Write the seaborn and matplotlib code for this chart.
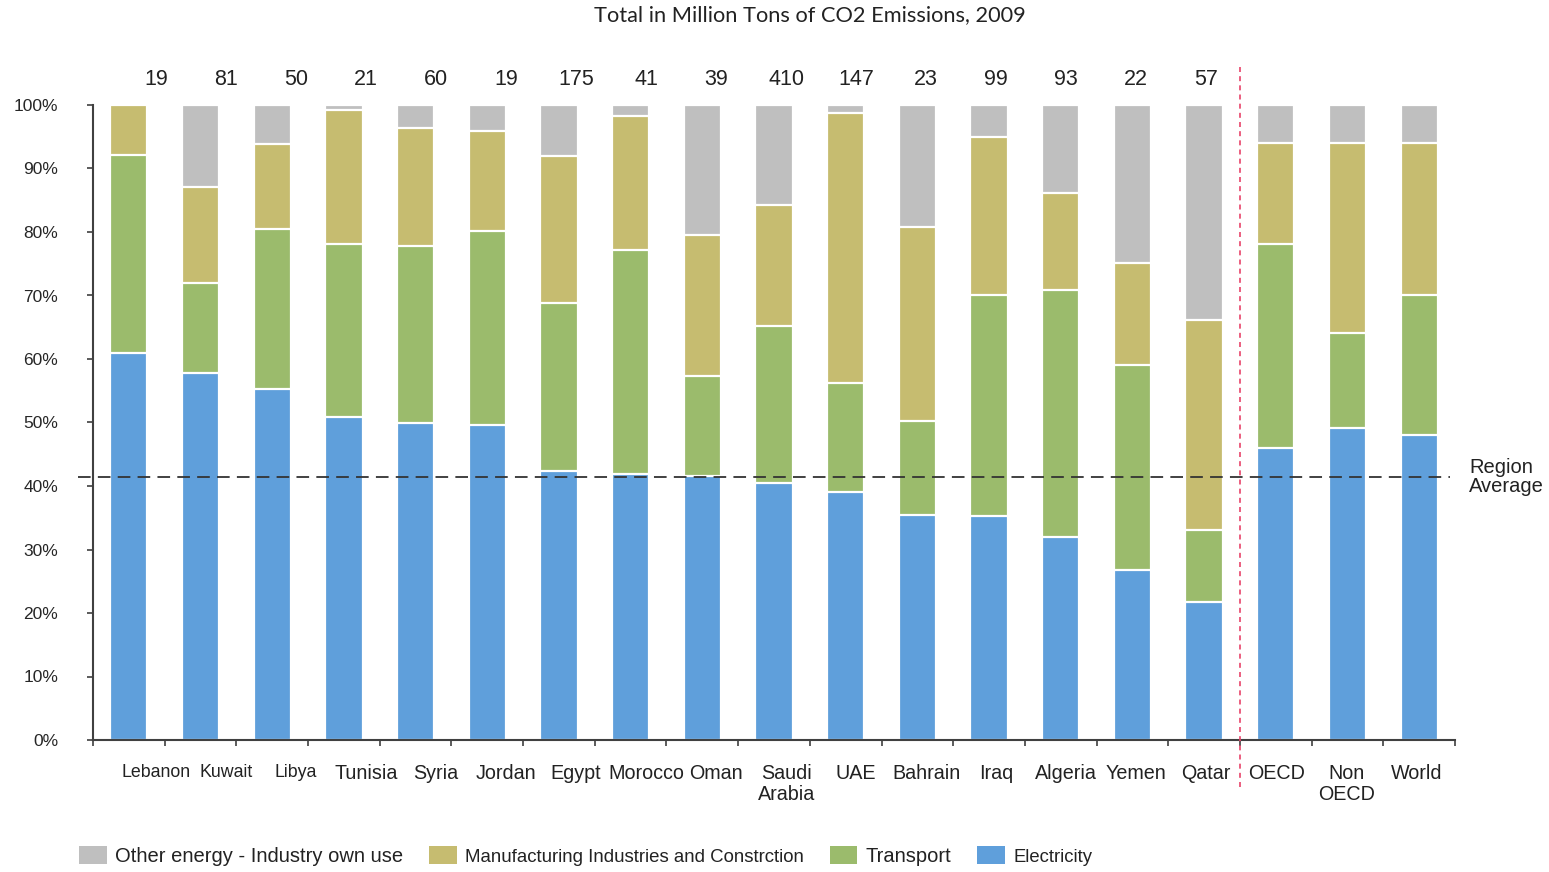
import numpy as np
import matplotlib
matplotlib.use("Agg")
import matplotlib.pyplot as plt
from matplotlib.patches import Patch
import seaborn as sns

# Countries / aggregates
categories = ["Lebanon", "Kuwait", "Libya", "Tunisia", "Syria", "Jordan", "Egypt",
              "Morocco", "Oman", "Saudi\nArabia", "UAE", "Bahrain", "Iraq", "Algeria",
              "Yemen", "Qatar", "OECD", "Non\nOECD", "World"]

# Total emissions (million tons CO2, 2009) shown above the regional bars
totals = [19, 81, 50, 21, 60, 19, 175, 41, 39, 410, 147, 23, 99, 93, 22, 57]

# Sector shares, % of total
electricity = [61.0, 57.8, 55.3, 50.9, 49.9, 49.6, 42.4, 41.9, 41.6, 40.5, 39.1,
               35.4, 35.3, 32.0, 26.8, 21.7, 46.0, 49.1, 48.0]
transport = [31.1, 14.2, 25.2, 27.2, 27.9, 30.6, 26.4, 35.3, 15.7, 24.7, 17.1,
             14.8, 34.8, 38.9, 32.3, 11.4, 32.1, 15.0, 22.1]
manufacturing = [7.9, 15.1, 13.4, 21.1, 18.6, 15.7, 23.2, 21.1, 22.2, 19.1, 42.5,
                 30.6, 24.9, 15.2, 16.0, 33.0, 15.9, 29.9, 23.9]
other_energy = [0.0, 12.9, 6.1, 0.8, 3.6, 4.1, 8.0, 1.7, 20.5, 15.7, 1.3,
                19.2, 5.0, 13.9, 24.9, 33.9, 6.0, 6.0, 6.0]

region_average = 41.4

series_labels = ["Other energy - Industry own use",
                 "Manufacturing Industries and Constrction",
                 "Transport", "Electricity"]
colors = {"Other energy - Industry own use": "#BFBFBF",
          "Manufacturing Industries and Constrction": "#C6BC70",
          "Transport": "#9BBB6C",
          "Electricity": "#5F9FDB"}

sns.set_theme(style="white")
plt.rcParams["font.family"] = ["Liberation Sans", "DejaVu Sans"]

fig = plt.figure(figsize=(15.49, 8.72), dpi=100)
ax = fig.add_axes([93 / 1549, 132 / 872, 1362 / 1549, 635 / 872])

# Cumulative tops; drawn from the tallest layer down so every segment shows
e = np.array(electricity)
t = e + np.array(transport)
m = t + np.array(manufacturing)
o = m + np.array(other_energy)
layers = [(o, series_labels[0]), (m, series_labels[1]), (t, series_labels[2]), (e, series_labels[3])]

for tops, name in layers:
    sns.barplot(x=categories, y=tops, order=categories, color=colors[name],
                saturation=1, width=0.52, edgecolor="white", linewidth=1.6,
                errorbar=None, ax=ax)

n = len(categories)
ax.set_xlim(-0.5, n - 0.5)
ax.set_ylim(0, 100)
ax.set_xlabel("")
ax.set_ylabel("")

# y axis
ax.set_yticks(np.arange(0, 101, 10))
ax.set_yticklabels([f"{v}%" for v in range(0, 101, 10)], fontsize=12.5)
ax.tick_params(axis="y", direction="out", length=4, width=1.2, color="#404040",
               pad=21, left=True)

# Category labels sit on a slightly tighter, right-shifted grid than the bars
label_pos = 0.38 + 0.9766 * np.arange(n)

# x axis: tick marks between categories
ax.set_xticks(np.arange(-0.5, n, 1))
ax.set_xticklabels([])
ax.set_xticks(label_pos, minor=True)
ax.set_xticklabels(categories, minor=True, fontsize=14.2, color="#222222")
for lbl in ax.get_xticklabels(minor=True):
    lbl.set_linespacing(1.15)
    if lbl.get_text() in ("Lebanon", "Kuwait", "Libya"):
        lbl.set_fontsize(12.8)
ax.tick_params(axis="x", which="major", direction="out", length=4, width=1.2,
               color="#404040", bottom=True)
ax.tick_params(axis="x", which="minor", length=0, pad=17)

for side in ["top", "right"]:
    ax.spines[side].set_visible(False)
for side in ["left", "bottom"]:
    ax.spines[side].set_color("#404040")
    ax.spines[side].set_linewidth(1.5)
ax.grid(False)

# Regional average reference line
ax.axhline(region_average, xmin=-0.011, xmax=0.996, color="#333333", lw=1.3,
           dashes=(7, 4), clip_on=False, zorder=5)
ax.text(18.7, region_average, "Region\nAverage", ha="left", va="center",
        fontsize=14.5, color="#222222", linespacing=1.05)

# Separator between countries and global aggregates
ax.axvline(15.5, ymin=-0.074, ymax=1.063, color="#E8436A", lw=1.2,
           dashes=(3, 2.5), clip_on=False, zorder=5)

# Total emissions above each regional bar
for i, val in enumerate(totals):
    ax.text(label_pos[i], 104.0, str(val), ha="center", va="center", fontsize=15.5,
            color="#222222", clip_on=False)

fig.text(810 / 1549, 1 - 15 / 872, "Total in Million Tons of CO2 Emissions, 2009",
         ha="center", va="center", fontsize=15.7, family=["Lato", "DejaVu Sans"],
         color="#222222")

handles = [Patch(facecolor=colors[s], edgecolor="none") for s in series_labels]
leg = fig.legend(handles, series_labels, loc="center left",
                 bbox_to_anchor=(79 / 1549, 1 - 856 / 872), ncol=4, frameon=False,
                 fontsize=13.3, handlelength=1.5, handleheight=1.1, handletextpad=0.45,
                 columnspacing=1.4, borderpad=0, borderaxespad=0)
for txt, size in zip(leg.get_texts(), [14.5, 13.45, 14.5, 13.3]):
    txt.set_fontsize(size)
    txt.set_color("#222222")

fig.savefig("out.png", dpi=100, facecolor="white")
